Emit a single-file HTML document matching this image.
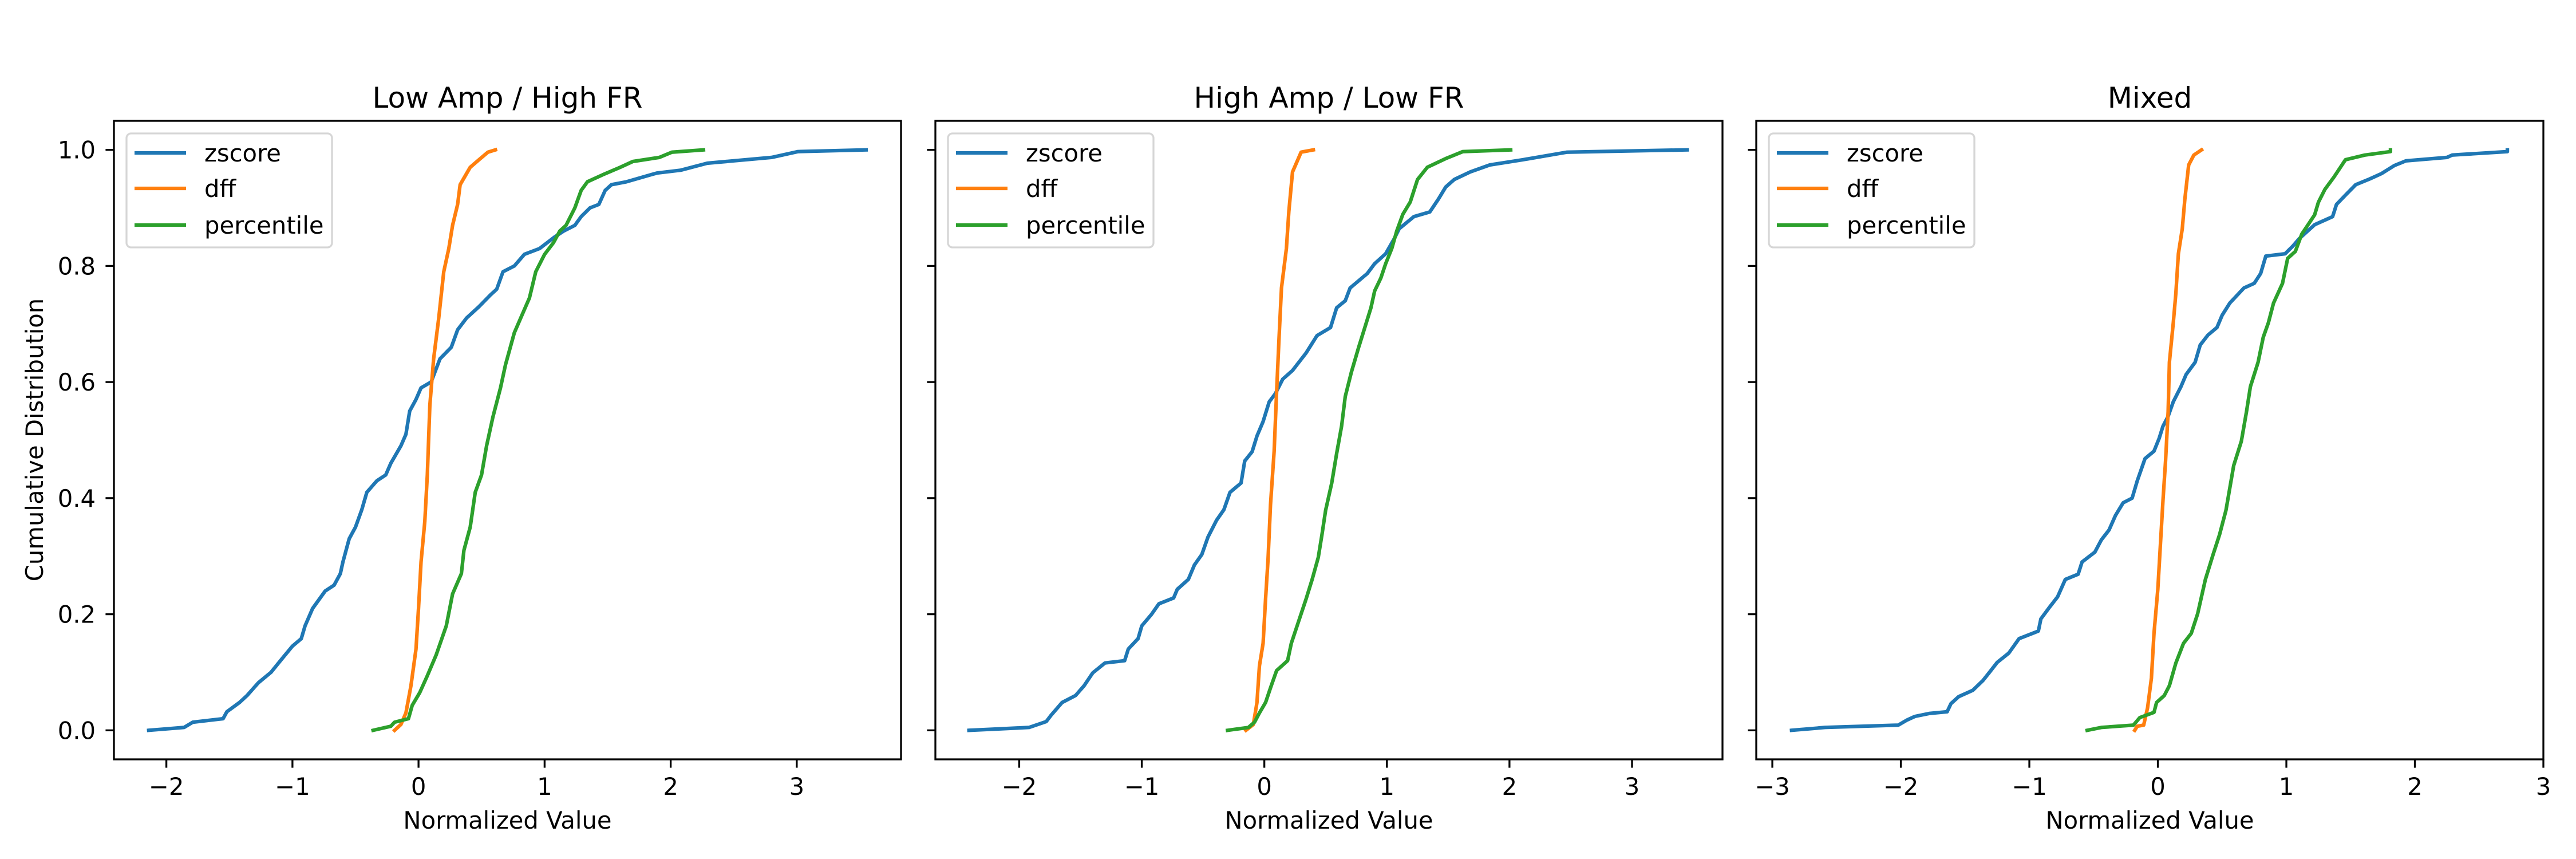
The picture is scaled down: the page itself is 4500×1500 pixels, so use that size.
<!DOCTYPE html>
<html><head><meta charset="utf-8"><style>
html,body{margin:0;padding:0;background:#fff;}
svg{display:block;font-family:"DejaVu Sans","Liberation Sans",sans-serif;}
</style></head><body>
<svg id="fig" width="4500" height="1500" viewBox="0 0 4500 1500" xmlns="http://www.w3.org/2000/svg"></svg>
<script>
// ---- data ----
const panelTitles = ["Low Amp / High FR", "High Amp / Low FR", "Mixed"];
const seriesNames = ["zscore", "dff", "percentile"];
const yTicks = [0.0, 0.2, 0.4, 0.6, 0.8, 1.0];
const yTickLabels = ["0.0", "0.2", "0.4", "0.6", "0.8", "1.0"];
const xTicks1 = [-2, -1, 0, 1, 2, 3];
const xTicks2 = [-2, -1, 0, 1, 2, 3];
const xTicks3 = [-3, -2, -1, 0, 1, 2, 3];
const xLabels1 = ["\u22122", "\u22121", "0", "1", "2", "3"];
const xLabels2 = ["\u22122", "\u22121", "0", "1", "2", "3"];
const xLabels3 = ["\u22123", "\u22122", "\u22121", "0", "1", "2", "3"];

// Panel 1 (Low Amp / High FR)
const p1ZscoreX = [-2.14,-1.86,-1.79,-1.55,-1.52,-1.42,-1.36,-1.27,-1.17,-1.08,-1.0,-0.93,-0.90,-0.84,-0.74,-0.67,-0.62,-0.60,-0.55,-0.50,-0.45,-0.41,-0.33,-0.26,-0.22,-0.14,-0.10,-0.07,-0.02,0.02,0.10,0.17,0.26,0.31,0.38,0.48,0.57,0.62,0.67,0.76,0.84,0.96,1.08,1.15,1.24,1.29,1.36,1.43,1.48,1.53,1.65,1.89,2.08,2.29,2.80,3.01,3.55];
const p1ZscoreY = [0,.005,.014,.02,.032,.048,.06,.082,.10,.124,.145,.158,.18,.21,.24,.25,.27,.29,.33,.35,.38,.41,.43,.44,.46,.49,.51,.55,.57,.59,.60,.64,.66,.69,.71,.73,.75,.76,.79,.80,.82,.83,.85,.86,.87,.885,.90,.906,.93,.94,.945,.96,.965,.977,.987,.997,1.0];
const p1DffX = [-0.19,-0.14,-0.10,-0.06,-0.02,0,0.02,0.05,0.07,0.09,0.12,0.16,0.20,0.24,0.27,0.31,0.33,0.41,0.48,0.55,0.61];
const p1DffY = [0,.01,.03,.077,.14,.21,.29,.36,.44,.56,.64,.71,.79,.83,.87,.906,.94,.97,.983,.996,1.0];
const p1PctX = [-0.36,-0.22,-0.19,-0.08,-0.05,0.01,0.07,0.14,0.22,0.27,0.34,0.36,0.41,0.45,0.50,0.54,0.59,0.65,0.69,0.76,0.81,0.88,0.93,1.0,1.07,1.12,1.17,1.24,1.29,1.34,1.46,1.60,1.70,1.91,2.01,2.26];
const p1PctY = [0,.007,.014,.02,.043,.065,.094,.13,.18,.235,.27,.31,.35,.41,.44,.49,.54,.59,.63,.685,.71,.745,.79,.82,.84,.86,.87,.90,.93,.945,.957,.97,.98,.987,.996,1.0];

// Panel 2 (High Amp / Low FR)
const p2ZscoreX = [-2.41,-1.92,-1.78,-1.74,-1.65,-1.54,-1.47,-1.40,-1.30,-1.14,-1.11,-1.03,-1.0,-0.92,-0.86,-0.74,-0.71,-0.62,-0.57,-0.51,-0.46,-0.39,-0.33,-0.28,-0.19,-0.16,-0.10,-0.06,-0.01,0.04,0.09,0.15,0.23,0.34,0.43,0.54,0.59,0.66,0.70,0.84,0.90,0.99,1.06,1.10,1.22,1.35,1.42,1.48,1.55,1.68,1.84,2.11,2.47,3.45];
const p2ZscoreY = [0,.005,.015,.026,.048,.06,.077,.099,.116,.12,.14,.158,.18,.20,.218,.228,.243,.26,.285,.303,.333,.362,.38,.41,.426,.464,.48,.507,.532,.566,.58,.605,.62,.65,.68,.694,.728,.74,.762,.787,.804,.821,.847,.864,.885,.893,.915,.936,.949,.962,.974,.983,.996,1.0];
const p2DffX = [-0.15,-0.09,-0.06,-0.04,-0.01,0.01,0.03,0.05,0.08,0.10,0.12,0.14,0.18,0.20,0.23,0.30,0.40];
const p2DffY = [0,.01,.048,.111,.15,.226,.294,.388,.481,.583,.677,.762,.83,.894,.962,.996,1.0];
const p2PctX = [-0.30,-0.13,-0.08,-0.04,0.01,0.05,0.10,0.19,0.22,0.28,0.34,0.39,0.44,0.47,0.50,0.55,0.59,0.63,0.66,0.71,0.77,0.82,0.87,0.90,0.95,0.99,1.04,1.08,1.13,1.19,1.25,1.33,1.48,1.62,2.01];
const p2PctY = [0,.005,.014,.03,.048,.073,.103,.12,.15,.188,.226,.26,.298,.337,.379,.426,.477,.524,.575,.617,.66,.694,.728,.757,.779,.804,.83,.86,.889,.91,.949,.97,.985,.997,1.0];

// Panel 3 (Mixed)
const p3ZscoreX = [-2.85,-2.59,-2.02,-1.95,-1.89,-1.78,-1.64,-1.61,-1.55,-1.44,-1.36,-1.31,-1.25,-1.16,-1.08,-0.93,-0.91,-0.84,-0.78,-0.72,-0.62,-0.59,-0.49,-0.44,-0.38,-0.33,-0.27,-0.20,-0.16,-0.10,-0.03,0.01,0.04,0.08,0.12,0.18,0.22,0.29,0.33,0.39,0.46,0.50,0.56,0.67,0.75,0.80,0.84,0.99,1.05,1.10,1.22,1.36,1.39,1.46,1.54,1.65,1.74,1.84,1.93,2.25,2.29,2.72,2.72];
const p3ZscoreY = [0,.005,.009,.018,.024,.029,.032,.046,.058,.069,.086,.10,.117,.133,.158,.171,.192,.213,.23,.26,.269,.29,.307,.328,.345,.37,.392,.40,.43,.468,.481,.503,.524,.541,.566,.592,.613,.634,.664,.681,.694,.715,.736,.762,.77,.787,.817,.821,.834,.847,.871,.885,.906,.922,.94,.95,.959,.973,.981,.987,.991,.997,1.0];
const p3DffX = [-0.18,-0.16,-0.11,-0.08,-0.05,-0.03,0,0.02,0.04,0.06,0.08,0.09,0.12,0.14,0.16,0.19,0.21,0.24,0.28,0.34];
const p3DffY = [0,.007,.009,.039,.09,.167,.243,.32,.396,.464,.549,.634,.702,.753,.821,.864,.915,.974,.991,1.0];
const p3PctX = [-0.55,-0.44,-0.19,-0.14,-0.03,-0.01,0.05,0.09,0.14,0.20,0.26,0.31,0.37,0.43,0.48,0.53,0.59,0.65,0.69,0.72,0.78,0.82,0.86,0.90,0.97,1.01,1.07,1.12,1.16,1.22,1.25,1.30,1.37,1.46,1.61,1.81,1.81];
const p3PctY = [0,.005,.009,.022,.031,.048,.06,.077,.116,.15,.167,.201,.26,.303,.337,.379,.456,.498,.549,.592,.634,.677,.702,.736,.77,.813,.825,.855,.868,.888,.91,.932,.953,.983,.991,.997,1.0];

// ---- layout ----
const colors = ["#1f77b4", "#ff7f0e", "#2ca02c"];
const axesBoxes = [[199,1574],[1634,3009],[3068,4443]];
const axTop = 211, axBottom = 1326;
const xLims = [[-2.416,3.827],[-2.684,3.738],[-3.125,3.0]];
const yLim = [-0.05, 1.05];
const svg = document.getElementById('fig');
const NS = "http://www.w3.org/2000/svg";
function mk(tag, attrs, parent) {
  const e = document.createElementNS(NS, tag);
  for (const k in attrs) e.setAttribute(k, attrs[k]);
  (parent || svg).appendChild(e);
  return e;
}
const panels = [
  {xs:[p1ZscoreX,p1DffX,p1PctX], ys:[p1ZscoreY,p1DffY,p1PctY], ticks:xTicks1, labels:xLabels1},
  {xs:[p2ZscoreX,p2DffX,p2PctX], ys:[p2ZscoreY,p2DffY,p2PctY], ticks:xTicks2, labels:xLabels2},
  {xs:[p3ZscoreX,p3DffX,p3PctX], ys:[p3ZscoreY,p3DffY,p3PctY], ticks:xTicks3, labels:xLabels3}
];
panels.forEach((p, i) => {
  const [L, R] = axesBoxes[i];
  const [x0, x1] = xLims[i];
  const sx = v => L + (v - x0) / (x1 - x0) * (R - L);
  const sy = v => axBottom - (v - yLim[0]) / (yLim[1] - yLim[0]) * (axBottom - axTop);
  const g = mk('g', {});
  
  
  // series
  p.xs.forEach((xs, s) => {
    const pts = xs.map((v, k) => sx(v).toFixed(1) + ',' + sy(p.ys[s][k]).toFixed(1)).join(' ');
    const pl = mk('polyline', {points: pts, fill: 'none', stroke: colors[s], 'stroke-width': 6.25, 'stroke-linejoin': 'round', 'stroke-linecap': 'square'}, g);
    
    
  });
  // frame
  const fr = mk('rect', {x: L, y: axTop, width: R - L, height: axBottom - axTop, fill: 'none', stroke: '#000', 'stroke-width': 3.3}, g);
  
  
  // y ticks
  yTicks.forEach((t, k) => {
    const y = sy(t);
    const tk = mk('line', {x1: L - 14.6, x2: L, y1: y, y2: y, stroke: '#000', 'stroke-width': 3.3}, g);
    
    
    if (i === 0) {
      const tx = mk('text', {x: 167, y: y + 15, 'font-size': 41.7, 'text-anchor': 'end'}, g);
      tx.textContent = yTickLabels[k];
      
      
    }
  });
  // x ticks
  p.ticks.forEach((t, k) => {
    const x = sx(t);
    const tk = mk('line', {x1: x, x2: x, y1: axBottom, y2: axBottom + 14.6, stroke: '#000', 'stroke-width': 3.3}, g);
    
    
    const tx = mk('text', {x: x, y: 1388, 'font-size': 41.7, 'text-anchor': 'middle'}, g);
    tx.textContent = p.labels[k];
    
    
  });
  // title
  const ti = mk('text', {x: (L + R) / 2, y: 188, 'font-size': 50, 'text-anchor': 'middle'}, g);
  ti.textContent = panelTitles[i];
  
  
  // x label
  const xl = mk('text', {x: (L + R) / 2, y: 1447, 'font-size': 41.7, 'text-anchor': 'middle'}, g);
  xl.textContent = 'Normalized Value';
  
  
  // legend
  const lg = mk('g', {}, g);
  
  
  const lx = L + 22;
  mk('rect', {x: lx, y: 233, width: 359, height: 199, rx: 8, fill: '#fff', 'fill-opacity': 0.8, stroke: '#d6d6d6', 'stroke-width': 3.3}, lg);
  seriesNames.forEach((n, s) => {
    const ry = [267, 329, 393][s];
    const ln = mk('line', {x1: lx + 14, x2: lx + 104, y1: ry, y2: ry, stroke: colors[s], 'stroke-width': 6.25}, lg);
    
    
    const tx = mk('text', {x: lx + 136, y: ry + 15, 'font-size': 41.7}, lg);
    tx.textContent = n;
    
    
  });
});
const yl = mk('text', {x: 0, y: 0, 'font-size': 41.7, 'text-anchor': 'middle', transform: 'translate(75,768) rotate(-90)'});
yl.textContent = 'Cumulative Distribution';


</script>
</body></html>
